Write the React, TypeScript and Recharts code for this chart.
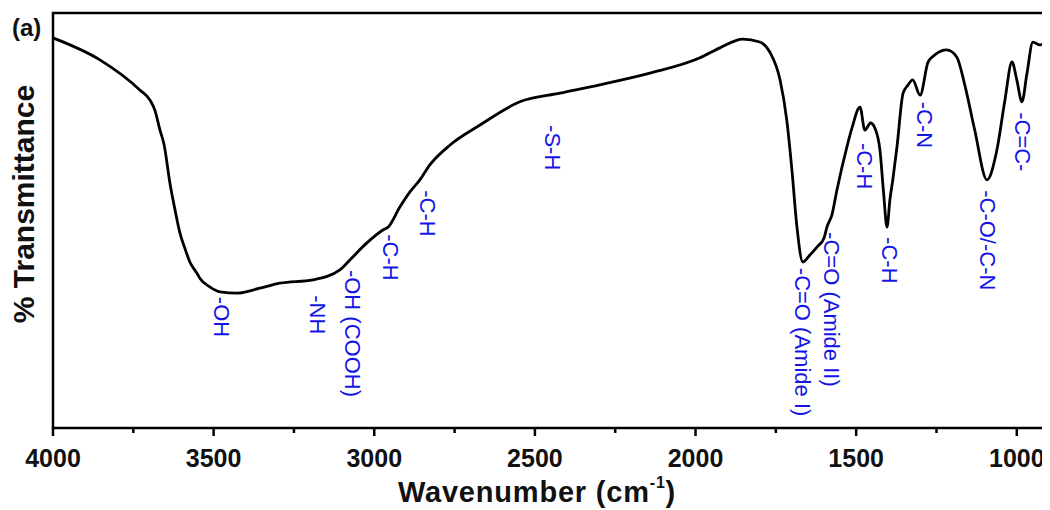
import React from 'react';
import { ComposedChart, Line, Scatter, XAxis, YAxis, ReferenceArea } from 'recharts';

// wavenumber (cm-1) and transmittance
const wavenumbers = [
  4000, 3854, 3729, 3698, 3683, 3667, 3654, 3636, 3620, 3605, 3590, 3574, 3552, 3543, 3512, 3480,
  3427, 3356, 3294, 3191, 3107, 3076, 3023, 2973, 2957, 2920, 2889, 2858, 2827, 2764, 2671, 2547,
  2422, 2298, 2142, 1986, 1924, 1853, 1800, 1769, 1737, 1716, 1700, 1685, 1666, 1644, 1622, 1600,
  1591, 1575, 1560, 1529, 1513, 1488, 1473, 1455, 1442, 1426, 1415, 1404, 1395, 1386, 1373, 1354,
  1340, 1324, 1301, 1276, 1255, 1218, 1187, 1162, 1131, 1093, 1062, 1037, 1015, 1000, 984, 969,
  950, 928, 906,
];
const transmittance = [
  94.0, 88.7, 81.4, 79.0, 76.6, 71.8, 68.2, 59.0, 52.5, 47.0, 43.4, 40.0, 37.3, 36.1, 34.0, 32.8,
  32.5, 33.7, 34.9, 35.7, 38.1, 40.5, 44.6, 47.7, 48.4, 53.3, 56.9, 59.8, 63.4, 68.2, 73.0, 78.6,
  80.7, 82.7, 85.5, 89.2, 91.6, 93.7, 93.0, 90.6, 83.9, 74.2, 62.2, 48.9, 40.0, 41.7, 43.6, 45.8,
  48.4, 51.5, 57.3, 67.7, 72.3, 77.3, 71.8, 73.5, 72.3, 67.0, 57.0, 48.4, 55.0, 59.8, 67.7, 80.7,
  82.5, 83.9, 80.2, 88.2, 89.9, 91.1, 89.4, 82.7, 71.8, 59.8, 67.0, 79.0, 88.2, 83.9, 78.6, 85.1,
  93.0, 92.3, 93.5,
];

// band assignments: position and where the text starts
const bandNames = [
  '-OH', '-NH', '-OH (COOH)', '-C-H', '-C-H', '-S-H', '-C=O (Amide I)', '-C=O (Amide II)',
  '-C-H', '-C-H', '-C-N', '-C-O/-C-N', '-C=C-',
];
const bandPositions = [3474, 3178, 3069, 2951, 2833, 2444, 1666, 1576, 1473, 1395, 1286, 1090, 981];
const bandTops = [31.6, 32.0, 38.1, 46.7, 57.3, 73.0, 38.6, 47.2, 68.7, 46.0, 78.6, 57.3, 76.1];

const xTicks = [4000, 3750, 3500, 3250, 3000, 2750, 2500, 2250, 2000, 1750, 1500, 1250, 1000];
const xMin = 906;
const xMax = 4000;

const spectrum = wavenumbers.map((w, i) => ({ w, t: transmittance[i] }));
const bands = bandNames.map((text, i) => ({ w: bandPositions[i], t: bandTops[i], text }));

const FONT = '"Liberation Sans", Arial, sans-serif';

function AxisTick(props: any) {
  const { x, y, payload } = props;
  const major = payload.value % 500 === 0;
  return (
    <g>
      <line x1={x} x2={x} y1={y} y2={y + (major ? 8 : 5)} stroke="#000" strokeWidth={2.5} />
      {major && (
        <text x={x} y={y + 39} textAnchor="middle" fontFamily={FONT} fontWeight="bold" fontSize={25} fill="#111">
          {payload.value}
        </text>
      )}
    </g>
  );
}

function BandLabel(props: any) {
  const { cx, cy, payload } = props;
  return (
    <text
      x={cx}
      y={cy}
      transform={`rotate(90 ${cx} ${cy})`}
      textAnchor="start"
      dominantBaseline="central"
      fontFamily={FONT}
      fontSize={22}
      fill="#1414e6"
    >
      {payload.text}
    </text>
  );
}

export default function App() {
  return (
    <div style={{ position: 'relative', width: 1042, height: 502 }}>
      <ComposedChart width={1042} height={502} margin={{ top: 5, right: 3, bottom: 0, left: 45 }}>
        <XAxis
          dataKey="w"
          type="number"
          domain={[xMin, xMax]}
          reversed
          ticks={xTicks}
          interval={0}
          tickSize={0}
          tickMargin={0}
          tickLine={false}
          axisLine={false}
          height={82}
          tick={<AxisTick />}
          allowDataOverflow
        />
        <YAxis hide domain={[0, 100]} type="number" dataKey="t" />
        <ReferenceArea x1={xMax} x2={xMin} y1={0} y2={100} fill="none" stroke="#000" strokeWidth={2.5} ifOverflow="visible" />
        <Line
          data={spectrum}
          dataKey="t"
          type="monotone"
          stroke="#000"
          strokeWidth={2.8}
          dot={false}
          isAnimationActive={false}
        />
        <Scatter data={bands} dataKey="t" shape={<BandLabel />} isAnimationActive={false} />
      </ComposedChart>
      <svg width={1042} height={502} style={{ position: 'absolute', left: 0, top: 0, pointerEvents: 'none' }}>
        <text x={4} y={28} fontFamily={FONT} fontWeight="bold" fontSize={24} fill="#111">
          (a)
        </text>
        <text
          x={15}
          y={196}
          transform="rotate(-90 15 196)"
          textAnchor="middle"
          dominantBaseline="central"
          fontFamily={FONT}
          fontWeight="bold"
          fontSize={30}
          fill="#111"
        >
          % Transmittance
        </text>
        <text
          x={529}
          y={494}
          textAnchor="middle"
          fontFamily={FONT}
          fontWeight="bold"
          fontSize={29}
          letterSpacing={0.8}
          fill="#111"
        >
          Wavenumber (cm
          <tspan fontSize={16} dy={-14}>-1</tspan>
          <tspan dy={14}>)</tspan>
        </text>
      </svg>
    </div>
  );
}
